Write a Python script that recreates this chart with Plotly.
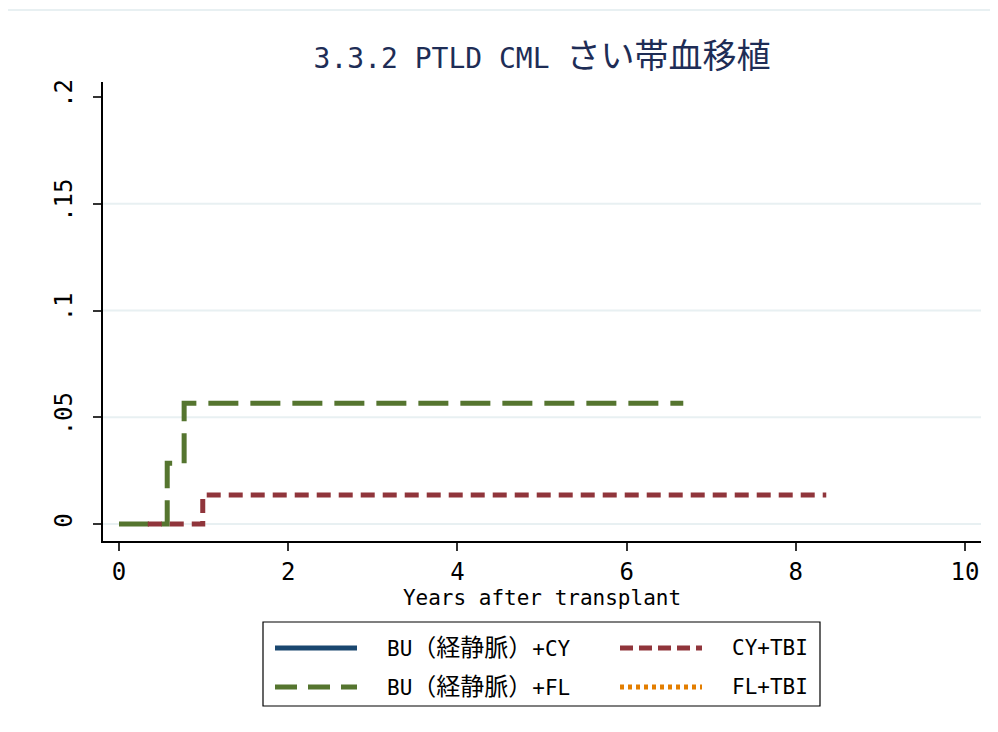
import plotly.graph_objects as go

# ---------------- data ----------------
series_names = ["BU（経静脈）+CY", "BU（経静脈）+FL", "CY+TBI", "FL+TBI"]
series_colors = ["#1a476f", "#55752f", "#90353b", "#e37e00"]
series_dash = ["solid", "30px,12px", "14px,8px", "4px,4px"]
legend_dash = ["solid", "22px,11px", "13px,6px", "4px,4px"]

bucy_years = []
bucy_inc = []
bufl_years = [0.0, 0.57, 0.77, 6.67]
bufl_inc = [0.0, 0.0285, 0.0565, 0.0565]
cytbi_years = [0.34, 0.99, 8.36]
cytbi_inc = [0.0, 0.0136, 0.0136]
fltbi_years = []
fltbi_inc = []

x_ticks = [0, 2, 4, 6, 8, 10]
y_ticks = [0, 0.05, 0.1, 0.15, 0.2]
y_tick_labels = ["0", ".05", ".1", ".15", ".2"]

title_latin = "3.3.2 PTLD CML "
title_cjk = "さい帯血移植"
x_title = "Years after transplant"

# ---------------- layout geometry (page pixels) ----------------
OFF = 8                      # page body margin
W, H = 998 - OFF, 732 - OFF
L, R, T, B = 103, 981, 82, 541
FONT = "DejaVu Sans Mono, Noto Sans CJK JP, monospace"


def px(x):
    return (x - L) / (R - L)


def py(y):
    return (B - y) / (B - T)


fig = go.Figure()
xs = [bucy_years, bufl_years, cytbi_years, fltbi_years]
ys = [bucy_inc, bufl_inc, cytbi_inc, fltbi_inc]
for name, xv, yv, col, dash in zip(series_names, xs, ys, series_colors, series_dash):
    fig.add_trace(go.Scatter(
        x=xv, y=yv, mode="lines", name=name,
        line=dict(color=col, width=5, dash=dash, shape="hv"),
        showlegend=False, hoverinfo="skip"))

shapes = []
# outer light frame
shapes.append(dict(type="rect", xref="paper", yref="paper",
                   x0=px(5), x1=px(1010), y0=py(745), y1=py(10),
                   line=dict(color="#e8f0f2", width=2), layer="below"))
# horizontal grid lines (none at the top tick)
for yv in y_ticks[:-1]:
    shapes.append(dict(type="line", xref="paper", yref="y", x0=0, x1=1, y0=yv, y1=yv,
                       line=dict(color="#e8f0f2", width=1.8), layer="below"))
# legend box
shapes.append(dict(type="rect", xref="paper", yref="paper",
                   x0=px(263), x1=px(820), y0=py(706), y1=py(622),
                   line=dict(color="#000000", width=1.2)))

annotations = []
leg_pos = [(275, 648, 385), (275, 687, 385), (620, 648, 730), (620, 687, 730)]


def cjk_span(text, size):
    out = ""
    for ch in text:
        if ord(ch) > 0x2000:
            out += f'<span style="font-size:{size}px">{ch}</span>'
        else:
            out += ch
    return out


for (sx, sy, tx), name, col, dash in zip(leg_pos, series_names, series_colors, legend_dash):
    shapes.append(dict(type="line", xref="paper", yref="paper",
                       x0=px(sx), x1=px(sx + 82), y0=py(sy), y1=py(sy),
                       line=dict(color=col, width=5, dash=dash)))
    annotations.append(dict(xref="paper", yref="paper", x=px(tx), y=py(sy),
                            xanchor="left", yanchor="middle", showarrow=False,
                            text=cjk_span(name, 24),
                            font=dict(family=FONT, size=21, color="#000000")))

fig.update_layout(
    width=W, height=H,
    margin=dict(l=L - OFF, r=998 - R, t=T - OFF, b=732 - B, pad=0),
    paper_bgcolor="white", plot_bgcolor="white",
    title=dict(text=title_latin + f'<span style="font-size:34px">{title_cjk}</span>',
               x=px(542), xref="paper", xanchor="center",
               y=1 - (58 - OFF) / H, yref="container", yanchor="middle",
               font=dict(family=FONT, size=28, color="#1e2d56")),
    xaxis=dict(range=[(L - 119) / 84.6, (R - 119) / 84.6],
               tickvals=x_ticks, ticktext=[str(v) for v in x_ticks],
               showgrid=False, zeroline=False,
               showline=True, linecolor="#000000", linewidth=1.5,
               ticks="outside", ticklen=8, tickwidth=1.5, tickcolor="#333333",
               tickfont=dict(family=FONT, size=24, color="#000000"),
               title=dict(text=x_title, standoff=6,
                          font=dict(family=FONT, size=21, color="#000000"))),
    yaxis=dict(range=[-(B - 524) / 2135, 0.2 + (97 - T) / 2135],
               tickvals=y_ticks, ticktext=y_tick_labels, tickangle=-90,
               ticklabelstandoff=12,
               showgrid=False, zeroline=False,
               showline=True, linecolor="#000000", linewidth=1.5,
               ticks="outside", ticklen=8, tickwidth=1.5, tickcolor="#333333",
               tickfont=dict(family=FONT, size=24, color="#000000")),
    shapes=shapes, annotations=annotations, showlegend=False,
)

fig.write_html("out.html")
